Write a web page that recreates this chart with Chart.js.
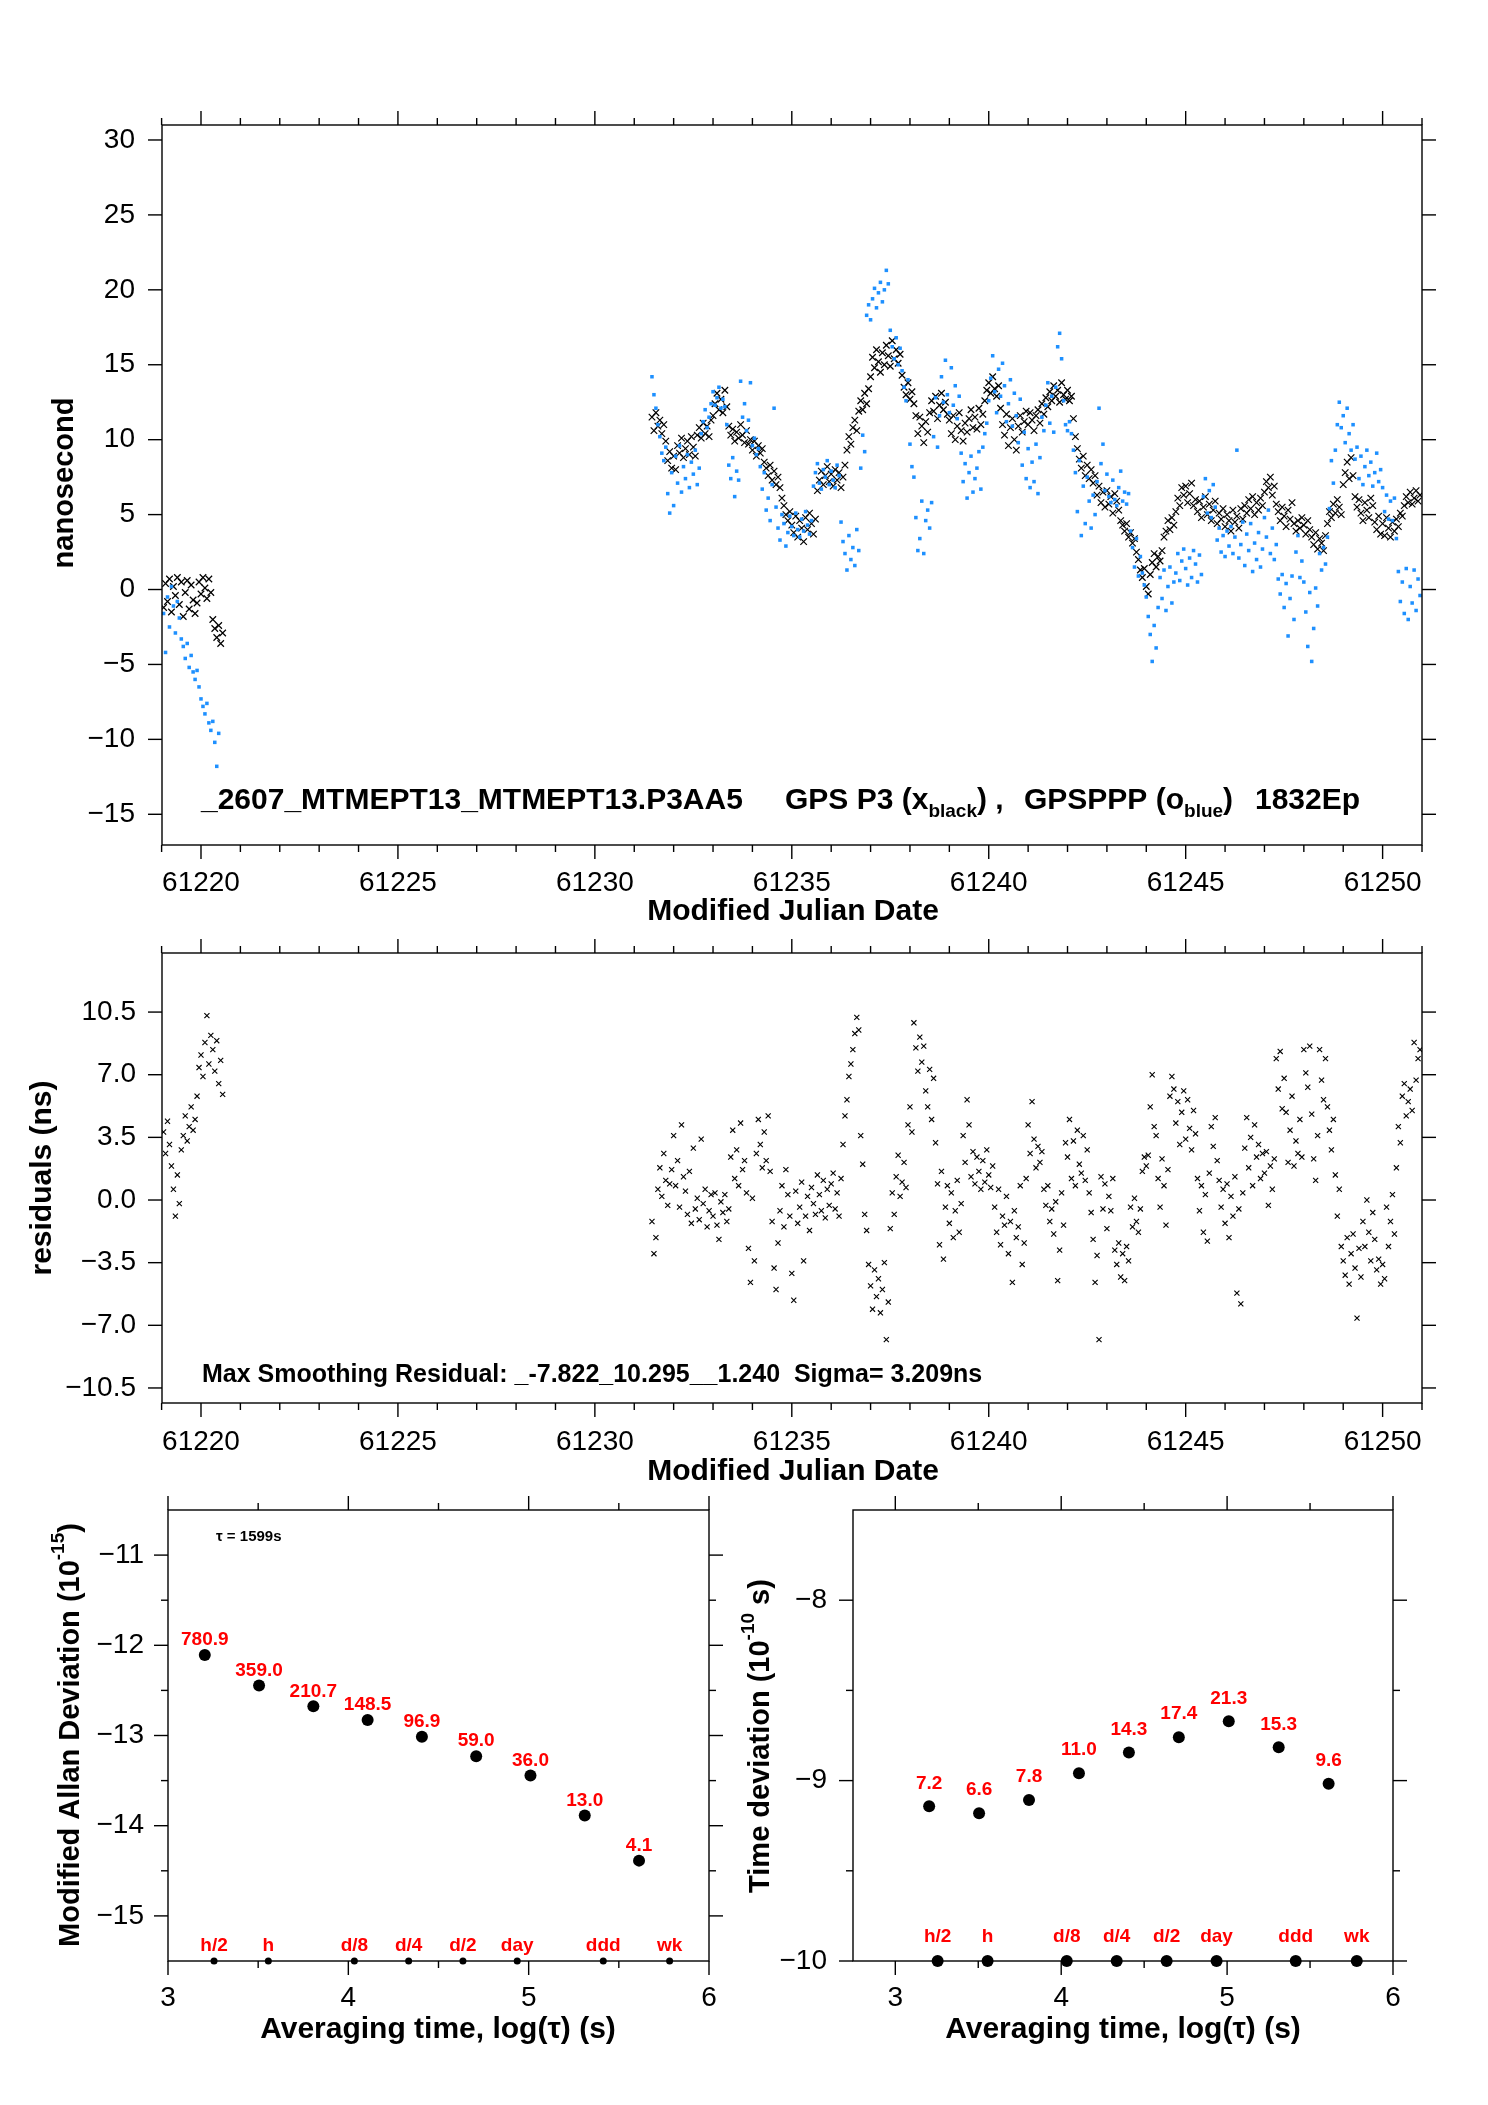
<!DOCTYPE html>
<html><head><meta charset="utf-8">
<script src="https://cdn.jsdelivr.net/npm/chart.js@4.4.0/dist/chart.umd.min.js"></script>
<style>
html,body{margin:0;padding:0;background:#fff;}
body{width:1488px;height:2105px;position:relative;overflow:hidden;}
canvas{position:absolute;}
</style></head>
<body>
<canvas id="c1"></canvas><canvas id="c2"></canvas><canvas id="c3"></canvas><canvas id="c4"></canvas>
<script>
// ---------------- DATA ----------------
const sampleStep = 0.05; // days between plotted samples

// GPS P3 (black x), nanoseconds
const p3StartA = 61219.05;
const p3A = [-1.2,0.4,-0.8,0.7,-1.5,0.2,-0.4,0.8,-1.0,0.5,-1.8,-0.2,0.6,-1.3,0.3,-0.7,-1.6,-0.9,0.5,
  -0.3,0.8,0.1,-0.6,0.7,-0.2,-2.0,-2.6,-3.2,-2.4,-3.6,-2.9];
const p3StartB = 61231.45;
const p3B = [
  11.5,10.6,11.8,10.9,11.3,10.4,11.0,9.9,8.6,9.2,8.1,
  8.9,8.0,9.6,9.1,10.1,8.8,9.4,9.9,9.0,10.2,9.5,8.9,10.3,10.8,10.1,11.1,10.4,10.9,10.2,11.3,
  11.6,12.4,13.1,12.0,12.7,11.8,13.3,12.2,10.9,10.3,10.7,9.9,10.5,10.1,11.0,10.3,9.8,10.6,9.7,10.0,
  9.3,9.9,8.9,9.6,9.1,9.4,8.5,8.1,7.6,8.3,7.3,7.9,7.0,7.5,6.8,6.1,5.6,5.0,4.6,5.2,
  4.3,3.8,4.9,3.5,4.6,4.1,3.2,4.8,4.0,5.1,4.4,3.7,4.7,6.6,7.3,7.9,7.0,7.6,8.2,7.2,
  7.7,6.9,8.0,7.3,7.8,6.8,7.5,8.3,9.3,10.2,9.7,10.8,11.3,10.6,11.9,12.6,12.0,13.1,12.4,13.4,
  14.2,15.5,14.8,16.0,15.2,14.5,15.8,15.0,16.3,15.6,14.9,16.6,15.4,16.0,15.1,15.7,14.3,13.5,13.0,13.8,
  12.7,13.2,12.4,11.6,10.4,11.5,10.9,9.8,11.2,10.5,11.8,12.6,11.9,12.9,11.4,12.3,13.1,12.0,12.5,11.7,
  11.3,10.4,11.6,10.0,10.9,11.8,10.6,9.9,11.1,10.5,11.4,12.0,10.8,11.5,10.7,12.1,11.0,11.7,12.6,13.3,
  13.8,13.1,14.2,13.4,12.9,13.6,12.1,11.0,10.3,11.7,9.6,10.8,11.4,10.0,9.3,10.9,11.6,10.5,11.2,11.9,
  11.0,11.8,11.3,10.6,11.6,12.0,11.1,12.4,11.7,12.8,12.2,13.2,12.6,13.6,12.9,13.3,12.5,13.8,13.0,12.7,
  13.3,12.6,12.9,11.4,10.2,9.4,8.7,8.1,8.9,7.6,8.3,7.4,8.0,7.1,7.6,6.3,6.9,5.8,6.5,5.5,
  6.6,5.7,6.2,5.1,6.4,5.9,5.3,4.6,4.3,3.9,4.4,3.5,3.8,3.1,3.4,2.5,2.0,1.3,0.8,1.4,
  0.2,-0.3,1.0,1.8,2.4,1.5,2.2,1.9,2.6,3.5,3.9,4.6,4.0,4.8,4.3,5.2,6.1,5.6,6.8,6.3,
  6.9,5.8,6.4,7.1,5.6,6.0,5.2,5.9,4.8,5.5,6.2,5.0,5.7,4.6,5.3,5.9,4.4,5.1,4.7,5.4,
  4.2,5.0,4.6,3.9,5.3,4.5,4.9,4.1,5.4,4.7,5.6,5.1,6.0,5.4,6.2,5.0,5.8,5.3,6.1,5.6,
  6.5,7.2,6.8,7.5,6.3,6.9,5.7,5.2,4.6,5.5,4.9,4.2,5.3,4.7,5.8,4.4,3.9,4.6,4.1,4.8,
  4.3,3.7,4.6,4.0,3.5,3.0,3.8,2.7,3.4,3.1,2.6,3.6,4.4,5.2,4.8,5.7,5.1,6.0,5.5,5.0,
  7.0,7.8,8.5,7.4,8.8,7.6,6.2,5.5,6.0,5.1,4.6,5.8,5.3,4.8,6.1,5.6,4.5,4.0,4.9,3.7,
  4.4,3.6,4.8,4.1,3.5,4.5,3.9,4.7,4.2,5.1,4.9,5.6,6.2,5.8,6.5,5.7,6.1,6.6,5.9,6.3];

// GPSPPP (blue o), nanoseconds
const pppStartA = 61219.05;
const pppA = [-1.6,-4.2,-0.5,-2.5,0.2,-1.1,-2.9,-0.8,-1.9,-3.3,-3.8,-4.6,-3.6,-5.2,-4.4,-5.5,-6.0,-5.4,-6.5,
  -7.3,-7.8,-8.3,-7.6,-8.9,-9.4,-8.8,-10.2,-11.8,-9.6];
const pppStartB = 61231.45;
const pppB = [
  14.2,13.0,12.1,11.0,10.2,9.1,8.6,9.5,6.4,5.1,7.8,
  5.6,8.9,7.1,9.6,6.5,8.2,7.4,9.0,6.8,8.5,7.7,9.3,7.0,8.1,10.4,11.2,12.0,10.8,11.5,12.4,
  13.2,12.3,12.8,13.5,12.1,12.7,12.2,11.0,8.3,7.4,8.8,6.2,7.9,7.3,13.9,11.5,12.4,10.6,11.3,13.8,
  9.6,10.1,9.0,9.4,8.2,6.7,7.8,5.3,6.1,4.6,7.0,12.1,5.5,4.1,3.3,5.0,4.4,2.9,3.8,4.9,
  4.2,3.6,5.1,4.0,3.5,4.7,3.9,5.2,4.3,3.7,4.6,6.9,7.8,8.4,7.1,6.7,8.0,7.5,8.6,7.0,
  7.9,7.3,6.8,8.3,7.6,4.5,3.2,2.4,1.3,3.6,2.0,2.8,1.6,4.0,2.6,8.1,10.3,9.2,18.3,19.0,
  18.0,19.4,20.1,18.8,19.8,20.5,19.2,20.0,21.3,20.4,17.3,16.2,15.4,16.8,15.0,16.1,14.6,13.5,12.6,14.0,
  9.7,8.2,7.5,4.8,2.6,3.4,5.9,2.4,4.6,5.3,4.1,5.8,10.2,12.8,9.5,11.6,14.2,12.5,15.3,13.0,
  11.8,14.8,12.3,13.6,11.4,12.9,9.1,7.2,8.4,6.1,7.8,8.9,6.5,7.4,8.1,9.2,6.7,9.5,10.4,11.1,
  12.6,14.1,15.6,13.2,11.8,14.7,12.9,15.1,13.6,11.2,12.4,14.0,10.9,13.1,11.6,9.8,12.7,8.3,10.5,7.4,
  9.4,6.8,8.5,7.2,9.7,6.4,8.8,11.5,10.6,12.3,13.8,11.1,12.9,10.5,13.5,16.2,17.1,15.4,12.6,11.0,
  10.6,11.2,10.4,9.3,7.8,5.2,8.6,3.6,6.9,4.4,7.5,5.9,4.1,6.3,5.0,7.2,12.1,8.4,9.7,6.6,
  7.7,6.2,5.8,7.3,6.0,5.6,6.8,7.9,5.9,6.5,5.7,6.4,3.9,2.8,1.5,3.4,0.9,2.2,1.1,0.3,
  -0.5,-1.8,-3.0,-4.8,-2.4,-3.9,-1.2,0.8,-0.6,1.3,-1.4,0.2,1.5,-0.9,0.5,1.1,2.4,0.6,1.9,2.7,
  1.4,0.3,2.1,0.8,2.6,1.7,0.5,2.3,1.0,6.2,7.4,5.1,6.6,4.8,7.0,5.5,3.3,4.1,2.5,3.6,
  2.2,3.9,2.9,4.2,2.4,3.5,9.3,2.1,3.0,4.5,1.6,3.7,2.6,4.4,1.2,3.1,2.0,3.8,1.5,2.7,
  4.8,3.5,5.3,2.4,4.1,2.0,3.0,0.7,-0.3,1.0,-1.2,0.4,-3.1,-0.6,0.9,-2.0,2.5,3.6,0.8,1.9,
  0.5,-1.5,-3.8,-0.2,-4.8,-2.6,0.1,-1.1,2.4,1.3,2.8,1.7,3.5,5.4,8.6,7.1,9.3,11.0,12.5,10.8,
  11.6,9.8,12.1,10.4,9.3,11.0,8.7,9.5,7.4,8.9,7.0,8.2,9.3,7.6,8.5,6.9,7.8,9.1,7.2,8.0,
  6.8,5.2,6.3,4.7,5.9,4.6,6.1,3.4,1.2,-0.8,0.5,-1.6,1.4,-2.0,0.2,-0.9,1.3,-1.4,0.7,-0.4];

// Smoothing residuals, ns
const resStartA = 61219.05;
const resA = [3.8,2.6,4.4,3.1,1.9,0.6,-0.9,1.4,-0.2,2.8,3.6,4.7,3.3,4.1,5.2,3.9,4.5,5.8,7.4,
  8.1,6.9,8.8,10.3,7.6,9.2,8.4,7.2,8.9,6.5,7.8,5.9];
const resStartB = 61231.45;
const resB = [
  -1.2,-3.0,-2.1,0.6,1.8,0.2,2.6,1.1,-0.3,0.9,1.7,
  3.6,0.8,2.2,-0.4,4.2,1.3,0.5,-0.8,1.6,-1.3,2.9,-0.5,0.1,-1.1,3.4,-0.2,0.6,-1.5,-0.6,0.3,
  -0.9,0.4,-1.4,-2.2,-0.1,-0.7,0.3,-1.2,-0.5,2.4,3.9,1.2,2.8,0.8,4.3,1.7,2.2,0.4,-2.7,-4.6,
  0.1,-3.4,2.6,4.5,3.1,1.8,3.8,2.2,4.7,1.6,-1.2,-3.8,-5.0,-2.4,-0.6,0.8,-1.5,1.7,0.3,-0.9,
  -4.1,-5.6,0.5,-1.3,-0.4,1.0,-3.4,-0.9,0.2,-1.7,0.7,-0.2,-0.8,1.4,0.3,-0.6,1.1,-1.0,0.6,-0.3,
  0.9,1.5,-0.5,0.4,-0.9,1.2,3.1,4.7,5.6,6.9,7.6,8.4,9.3,10.2,9.5,3.6,2.0,-0.8,-1.7,-3.6,
  -4.8,-6.1,-3.9,-5.4,-4.4,-6.3,-5.0,-3.5,-7.8,-5.7,-1.6,0.4,-0.8,1.3,2.5,0.2,1.0,2.1,0.7,4.2,
  5.2,3.8,9.9,8.5,7.2,9.1,7.7,8.6,6.1,5.2,7.3,4.5,6.8,3.2,0.9,-2.5,1.6,-3.3,-0.4,0.8,
  -1.3,0.4,-2.1,-0.6,1.1,-1.8,-0.2,3.6,2.1,5.6,4.2,1.3,2.7,0.9,2.4,1.6,0.6,2.2,1.0,2.8,
  1.4,0.7,1.9,-0.4,-1.8,0.6,-2.5,-0.9,-1.4,0.2,-3.0,-1.2,-4.6,-0.6,-2.1,-1.5,0.8,-3.6,-2.4,1.2,
  4.2,2.6,5.5,3.4,1.8,3.0,2.1,2.7,0.6,-0.3,0.8,-1.2,-0.5,-1.9,-0.1,-4.5,-2.8,0.4,-1.4,3.2,
  2.4,4.5,1.2,3.3,0.8,3.9,2.0,1.5,3.6,1.1,2.8,0.4,-0.7,-2.2,-4.6,-3.1,-7.8,1.3,-0.5,0.9,
  -1.6,0.2,-0.6,1.2,-2.8,-3.6,-2.4,-4.3,-3.0,-4.5,-2.6,-3.4,-0.4,-1.5,0.1,-1.2,-1.8,-0.5,1.6,2.4,
  1.9,2.5,5.2,7.0,4.1,3.6,1.2,-0.4,2.3,0.8,-1.4,1.7,5.8,6.9,6.2,4.3,5.5,3.1,4.9,6.1,
  3.4,5.6,4.0,2.8,5.0,3.7,1.2,-0.6,0.8,-1.8,0.3,-2.3,1.5,4.1,3.0,4.6,2.2,1.1,-0.4,0.6,
  -1.3,0.9,-2.1,0.2,-0.9,1.3,-5.2,-0.5,-5.8,0.4,2.9,4.6,1.8,3.5,0.8,4.2,2.4,3.1,1.2,2.6,
  1.5,2.7,-0.3,1.9,0.6,2.3,7.9,6.2,8.3,5.1,6.8,4.9,2.1,3.9,5.8,1.9,3.3,2.6,4.5,2.4,
  8.4,7.1,6.3,8.6,4.8,2.3,1.1,3.6,8.4,6.7,5.6,7.9,5.2,3.9,2.8,4.5,1.4,-0.9,0.6,-2.6,
  -3.4,-4.2,-2.1,-4.7,-3.0,-1.9,-3.8,-6.6,-2.7,-4.3,-1.2,-2.6,0.0,-1.8,-3.4,-0.7,-2.2,-3.9,-3.3,-4.7,
  -3.6,-4.4,-0.4,-2.6,-1.2,0.3,-1.9,1.8,4.1,3.2,5.8,6.5,4.7,5.5,6.2,5.0,8.8,6.7,7.9,8.4];

// Stability analysis
const logTau = [3.204, 3.505, 3.806, 4.107, 4.408, 4.709, 5.010, 5.311, 5.612];
const modAdev = [780.9, 359.0, 210.7, 148.5, 96.9, 59.0, 36.0, 13.0, 4.1];   // x 1e-15
const tdev = [7.2, 6.6, 7.8, 11.0, 14.3, 17.4, 21.3, 15.3, 9.6];            // x 1e-10 s
const markerNames = ['h/2', 'h', 'd/8', 'd/4', 'd/2', 'day', 'ddd', 'wk'];
const markerSeconds = [1800, 3600, 10800, 21600, 43200, 86400, 259200, 604800];

// Tick labels
const mjdTicks = [61220, 61225, 61230, 61235, 61240, 61245, 61250];
const mjdMinor = [61219,61221,61222,61223,61224,61226,61227,61228,61229,61231,61232,61233,61234,
  61236,61237,61238,61239,61241,61242,61243,61244,61246,61247,61248,61249,61251];
const nsTicks = [-15, -10, -5, 0, 5, 10, 15, 20, 25, 30];
const resTicks = [-10.5, -7.0, -3.5, 0.0, 3.5, 7.0, 10.5];
const logTicks = [3, 4, 5, 6];
const logMinor = [3.5, 4.5, 5.5];
const adevTicks = [-15, -14, -13, -12, -11];
const adevMinor = [-14.5, -13.5, -12.5, -11.5];
const tdevTicks = [-10, -9, -8];
const tdevMinor = [-9.5, -8.5];

// ---------------- HELPERS ----------------
const FONT = '"Liberation Sans", Arial, Helvetica, sans-serif';
const seg = (start, vals) => vals.map((v, i) => ({x: +(start + i * sampleStep).toFixed(3), y: v}));
const minus = s => String(s).replace('-', '\u2212');

function drawText(ctx, t) {
  ctx.save();
  ctx.translate(t.x, t.y);
  if (t.rot) ctx.rotate(-Math.PI / 2);
  ctx.fillStyle = t.color || '#000';
  ctx.textBaseline = t.baseline || 'middle';
  ctx.textAlign = 'left';
  const fnt = p => `${t.weight || 'bold'} ${p.s ? Math.round(t.size * 0.64) : t.size}px ${FONT}`;
  let w = 0;
  t.parts.forEach(p => { ctx.font = fnt(p); p.w = ctx.measureText(p.t).width; w += p.w; });
  let x = t.align === 'center' ? -w / 2 : 0;
  t.parts.forEach(p => {
    ctx.font = fnt(p);
    const dy = p.s === 'sup' ? -t.size * 0.42 : (p.s === 'sub' ? t.size * 0.28 : 0);
    ctx.fillText(p.t, x, dy);
    x += p.w;
  });
  ctx.restore();
}

function framePlugin(cfg) {
  return {
    id: 'frame_' + cfg.id,
    afterDraw(chart) {
      const ctx = chart.ctx, a = chart.chartArea, sx = chart.scales.x, sy = chart.scales.y;
      ctx.save();
      ctx.strokeStyle = '#000';
      ctx.lineWidth = 1.4;
      ctx.strokeRect(a.left, a.top, a.right - a.left, a.bottom - a.top);
      const L = (x1, y1, x2, y2) => { ctx.beginPath(); ctx.moveTo(x1, y1); ctx.lineTo(x2, y2); ctx.stroke(); };
      const tx = (vals, len) => vals.forEach(v => { const p = sx.getPixelForValue(v); L(p, a.bottom, p, a.bottom + len); L(p, a.top, p, a.top - len); });
      const ty = (vals, len) => vals.forEach(v => { const p = sy.getPixelForValue(v); L(a.left, p, a.left - len, p); L(a.right, p, a.right + len, p); });
      tx(cfg.xMinor || [], 7); tx(cfg.xMajor, 14);
      ty(cfg.yMinor || [], 7); ty(cfg.yMajor, 14);
      (cfg.texts || []).forEach(t => drawText(ctx, t));
      if (cfg.after) cfg.after(chart, ctx);
      ctx.restore();
    }
  };
}

function makeChart(cfg) {
  const cv = document.getElementById(cfg.id);
  const b = cfg.box;
  cv.width = b.w; cv.height = b.h;
  Object.assign(cv.style, {left: b.x + 'px', top: b.y + 'px', width: b.w + 'px', height: b.h + 'px'});
  const tickFont = {family: FONT, size: 28};
  return new Chart(cv, {
    type: 'scatter',
    data: {datasets: cfg.datasets},
    options: {
      responsive: false, animation: false, devicePixelRatio: 1,
      layout: {padding: {left: 0, top: cfg.area.top, right: b.w - cfg.area.right, bottom: 0}},
      plugins: {legend: {display: false}, tooltip: {enabled: false}},
      events: [],
      scales: {
        x: {
          type: 'linear', position: 'bottom', min: cfg.xMin, max: cfg.xMax,
          grid: {display: false, drawTicks: false}, border: {display: false},
          afterBuildTicks: s => { s.ticks = cfg.xMajor.map(v => ({value: v})); },
          afterFit: s => { s.height = b.h - cfg.area.bottom; s.paddingLeft = 0; s.paddingRight = 0; },
          ticks: {autoSkip: false, maxRotation: 0, minRotation: 0, padding: cfg.xPad, font: tickFont, color: '#000',
                  callback: v => minus(v)}
        },
        y: {
          type: 'linear', position: 'left', min: cfg.yMin, max: cfg.yMax,
          grid: {display: false, drawTicks: false}, border: {display: false},
          afterBuildTicks: s => { s.ticks = cfg.yMajor.map(v => ({value: v})); },
          afterFit: s => { s.width = cfg.area.left; s.paddingTop = 0; s.paddingBottom = 0; },
          ticks: {autoSkip: false, padding: cfg.yPad, font: tickFont, color: '#000',
                  callback: v => minus(cfg.yFmt ? cfg.yFmt(v) : v)}
        }
      }
    },
    plugins: [framePlugin(cfg)]
  });
}

const blackX = (data, r, w) => ({data, pointStyle: 'crossRot', pointRadius: r, borderColor: '#000', borderWidth: w, showLine: false});

// ---------------- TOP: clock offsets ----------------
makeChart({
  id: 'c1', box: {x: 0, y: 0, w: 1488, h: 960},
  area: {left: 162, top: 125, right: 1422, bottom: 845},
  xMin: 61219.01, xMax: 61251.0, yMin: -17.05, yMax: 31.0,
  xMajor: mjdTicks, xMinor: mjdMinor, yMajor: nsTicks, xPad: 21, yPad: 27,
  datasets: [
    {data: seg(pppStartA, pppA).concat(seg(pppStartB, pppB)), pointStyle: 'rect', pointRadius: 2.5,
     backgroundColor: '#1E90FF', borderWidth: 0, showLine: false},
    blackX(seg(p3StartA, p3A).concat(seg(p3StartB, p3B)), 4.6, 1.2)
  ],
  texts: [
    {parts: [{t: 'nanosecond'}], x: 65, y: 483, size: 29, rot: true, align: 'center'},
    {parts: [{t: 'Modified Julian Date'}], x: 793, y: 912, size: 30, align: 'center'},
    {parts: [{t: '_2607_MTMEPT13_MTMEPT13.P3AA5'}], x: 201, y: 809, size: 30, baseline: 'alphabetic'},
    {parts: [{t: 'GPS P3 (x'}, {t: 'black', s: 'sub'}, {t: ') ,'}], x: 785, y: 809, size: 30, baseline: 'alphabetic'},
    {parts: [{t: 'GPSPPP (o'}, {t: 'blue', s: 'sub'}, {t: ')'}], x: 1024, y: 809, size: 30, baseline: 'alphabetic'},
    {parts: [{t: '1832Ep'}], x: 1255, y: 809, size: 30, baseline: 'alphabetic'}
  ]
});

// ---------------- MIDDLE: residuals ----------------
makeChart({
  id: 'c2', box: {x: 0, y: 920, w: 1488, h: 580},
  area: {left: 162, top: 33, right: 1422, bottom: 483},
  xMin: 61219.01, xMax: 61251.0, yMin: -11.34, yMax: 13.8,
  xMajor: mjdTicks, xMinor: mjdMinor, yMajor: resTicks, yFmt: v => v.toFixed(1), xPad: 22, yPad: 26,
  datasets: [blackX(seg(resStartA, resA).concat(seg(resStartB, resB)), 3.6, 1.1)],
  texts: [
    {parts: [{t: 'residuals (ns)'}], x: 43, y: 258, size: 30, rot: true, align: 'center'},
    {parts: [{t: 'Modified Julian Date'}], x: 793, y: 552, size: 30, align: 'center'},
    {parts: [{t: 'Max Smoothing Residual: _-7.822_10.295__1.240  Sigma= 3.209ns'}], x: 202, y: 455, size: 25}
  ]
});

// ---------------- BOTTOM LEFT: Modified Allan deviation ----------------
const dot = (data, r) => ({data, pointStyle: 'circle', pointRadius: r, backgroundColor: '#000', borderWidth: 0, clip: false, showLine: false});
const redLabels = (offP, offM, list, dec) => (chart, ctx) => {
  ctx.fillStyle = '#FF0000';
  ctx.font = `bold 19px ${FONT}`;
  ctx.textAlign = 'center'; ctx.textBaseline = 'middle';
  chart.getDatasetMeta(0).data.forEach((el, i) => ctx.fillText(list[i].toFixed(dec), el.x, el.y - offP));
  chart.getDatasetMeta(1).data.forEach((el, i) => ctx.fillText(markerNames[i], el.x, el.y - offM));
};

makeChart({
  id: 'c3', box: {x: 0, y: 1480, w: 744, h: 625},
  area: {left: 168, top: 30, right: 709, bottom: 481},
  xMin: 3, xMax: 6, yMin: -15.5, yMax: -10.5,
  xMajor: logTicks, xMinor: logMinor, yMajor: adevTicks, yMinor: adevMinor, xPad: 20, yPad: 24,
  datasets: [
    dot(logTau.map((t, i) => ({x: t, y: Math.log10(modAdev[i]) - 15})), 6),
    dot(markerSeconds.map(s => ({x: Math.log10(s), y: -15.5})), 3.5)
  ],
  texts: [
    {parts: [{t: '\u03C4 = 1599s'}], x: 216, y: 57, size: 15},
    {parts: [{t: 'Modified Allan Deviation (10'}, {t: '-15', s: 'sup'}, {t: ')'}], x: 71, y: 255, size: 29, rot: true, align: 'center'},
    {parts: [{t: 'Averaging time, log(\u03C4) (s)'}], x: 438, y: 550, size: 30, align: 'center'}
  ],
  after: redLabels(15, 15, modAdev, 1)
});

// ---------------- BOTTOM RIGHT: Time deviation ----------------
makeChart({
  id: 'c4', box: {x: 724, y: 1480, w: 764, h: 625},
  area: {left: 129, top: 30, right: 669, bottom: 481},
  xMin: 2.745, xMax: 6, yMin: -10, yMax: -7.5,
  xMajor: logTicks, xMinor: logMinor, yMajor: tdevTicks, yMinor: tdevMinor, xPad: 20, yPad: 26,
  datasets: [
    dot(logTau.map((t, i) => ({x: t, y: Math.log10(tdev[i]) - 10})), 6),
    dot(markerSeconds.map(s => ({x: Math.log10(s), y: -10})), 6)
  ],
  texts: [
    {parts: [{t: 'Time deviation (10'}, {t: '-10', s: 'sup'}, {t: ' s)'}], x: 37, y: 256, size: 29, rot: true, align: 'center'},
    {parts: [{t: 'Averaging time, log(\u03C4) (s)'}], x: 399, y: 550, size: 30, align: 'center'}
  ],
  after: redLabels(23, 24, tdev, 1)
});
</script>
</body></html>
